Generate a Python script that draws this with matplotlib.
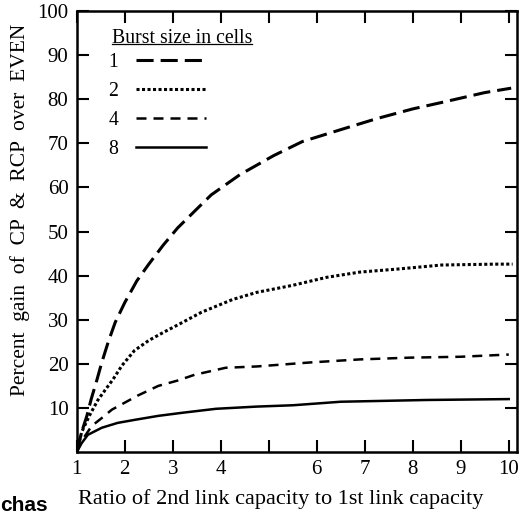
import matplotlib
matplotlib.use("Agg")
import matplotlib.pyplot as plt
from matplotlib.lines import Line2D

# ---- data ----
x1 = [1, 1.1, 1.21, 1.3, 1.42, 1.52, 1.65, 1.8, 2.0, 2.25, 2.5, 2.8, 3.1, 3.5, 3.8,
      4.4, 5.1, 5.7, 6.5, 7.25, 8, 8.7, 9.5, 10.05]
y1 = [0, 4.5, 8.2, 12, 16.4, 20.3, 24.8, 29.4, 33.9, 38.8, 42.6, 46.9, 50.8, 55.1, 58.3,
      62.9, 67.2, 70.4, 73.1, 75.6, 77.8, 79.5, 81.5, 82.5]

x2 = [1, 1.1, 1.27, 1.44, 1.6, 1.75, 1.94, 2.2, 2.5, 2.8, 3.1, 3.6, 4.25, 4.75, 5.5,
      6.2, 6.9, 7.7, 8.6, 9.7, 10.08]
y2 = [0, 4.5, 8.4, 11.8, 14.2, 16.4, 19.6, 23, 25.3, 27.1, 28.8, 31.7, 34.6, 36.2, 37.8,
      39.6, 40.8, 41.5, 42.4, 42.6, 42.6]

x4 = [1, 1.1, 1.31, 1.52, 1.73, 2.0, 2.27, 2.7, 3.1, 3.45, 4.1, 4.75, 5.85, 6.9, 7.95,
      9.0, 10.0]
y4 = [0, 2.5, 5.9, 7.7, 9.6, 11.2, 12.8, 15, 16.2, 17.5, 19.1, 19.4, 20.3, 21.0, 21.4,
      21.6, 22.1]

x8 = [1, 1.1, 1.23, 1.52, 1.85, 2.21, 2.7, 3.2, 3.9, 4.75, 5.5, 6.5, 8.3, 10.0]
y8 = [0, 2, 3.9, 5.5, 6.6, 7.3, 8.2, 8.9, 9.8, 10.3, 10.6, 11.4, 11.8, 12.0]

burst_labels = ["1", "2", "4", "8"]
legend_title = "Burst size in cells"
xticks = [1, 2, 3, 4, 5, 6, 7, 8, 9, 10]
xticklabels = ["1", "2", "3", "4", "", "6", "7", "8", "9", "10"]
yticks = [10, 20, 30, 40, 50, 60, 70, 80, 90, 100]

plt.rcParams['font.family'] = ['Liberation Serif', 'DejaVu Serif']

fig = plt.figure(figsize=(5.19, 5.14), dpi=100)
ax = fig.add_axes([0.148, 0.1206, 0.848, 0.858])

l1, = ax.plot(x1, y1, color='black', lw=2.2, dashes=(5.6, 2.3))
l2, = ax.plot(x2, y2, color='black', lw=2.2, dashes=(1.0, 0.8))
l4, = ax.plot(x4, y4, color='black', lw=1.8, dashes=(4.0, 2.8))
l8, = ax.plot(x8, y8, color='black', lw=1.8)

ax.set_xlim(1, 10.17)
ax.set_ylim(0, 100)
ax.set_xticks(xticks)
ax.set_xticklabels(xticklabels)
ax.set_yticks(yticks)
ax.tick_params(direction='in', length=8.5, width=1.5, labelsize=15,
               top=True, right=True, pad=6)
for s in ax.spines.values():
    s.set_linewidth(1.8)

ax.set_xlabel("Ratio of 2nd link capacity to 1st link capacity", fontsize=16)
ax.xaxis.set_label_coords(0.464, -0.084)
ax.set_ylabel("Percent  gain  of  CP  &  RCP  over  EVEN", fontsize=15.5)
ax.yaxis.set_label_coords(-0.106, 0.549)

leg = ax.legend([l1, l2, l4, l8], burst_labels,
                frameon=False, markerfirst=False, handlelength=3.55,
                fontsize=14.2, loc='upper left',
                bbox_to_anchor=(0.054, 0.922), labelspacing=0.5,
                handletextpad=0.9, borderaxespad=0)

title = ax.text(0.080, 0.937, legend_title, transform=ax.transAxes,
                fontsize=14.2, ha='left', va='center')

fig.text(0.0, 0.005, "chas", fontsize=15, fontweight='bold',
         family=['Liberation Sans', 'DejaVu Sans'], ha='left', va='baseline')

fig.canvas.draw()
bb = title.get_window_extent()
inv = fig.transFigure.inverted()
(x0, y0), (x1b, _) = inv.transform([(bb.x0, bb.y0 + 4), (bb.x1, bb.y0)])
fig.add_artist(Line2D([x0, x1b], [y0, y0], color='black', lw=0.9,
                      transform=fig.transFigure))

fig.savefig("out.png", dpi=100)
